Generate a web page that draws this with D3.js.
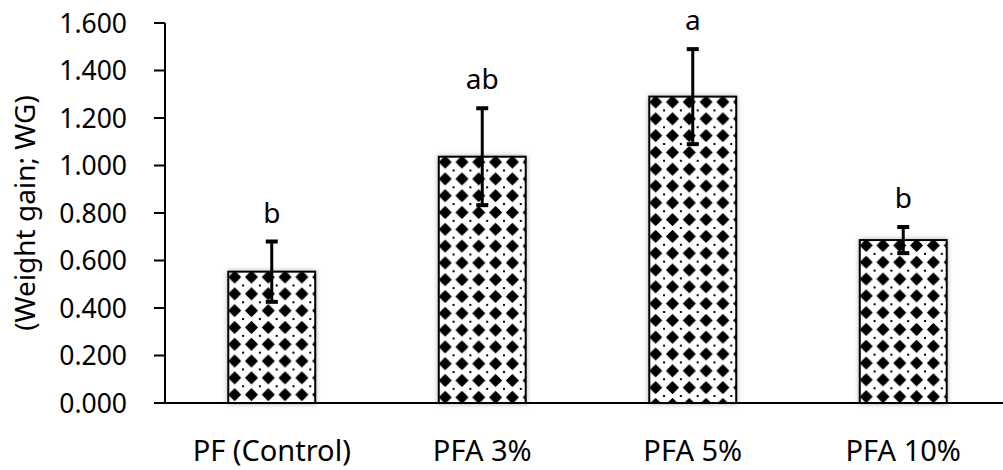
<!DOCTYPE html>
<html>
<head>
<meta charset="utf-8">
<script src="https://cdn.jsdelivr.net/npm/d3@7"></script>
<style>
  body { margin: 0; background: #fff; }
  text { font-family: "Noto Sans", sans-serif; fill: #000; }
</style>
</head>
<body>
<div id="chart"></div>
<script>
// data
const groups = ["PF (Control)", "PFA 3%", "PFA 5%", "PFA 10%"];
const weightGain = [0.553, 1.037, 1.290, 0.686];
const errors = [0.127, 0.204, 0.200, 0.055];
const letters = ["b", "ab", "a", "b"];
const yTicks = [0, 0.2, 0.4, 0.6, 0.8, 1.0, 1.2, 1.4, 1.6];

const width = 1003, height = 470;

const svg = d3.select("#chart")
  .append("svg")
  .attr("width", width)
  .attr("height", height);

const x = d3.scaleBand()
  .domain(groups)
  .range([166.5, 1008.5])
  .paddingInner(0.587)
  .paddingOuter(0.2935);

const y = d3.scaleLinear().domain([0, 1.6]).range([403, 23]);

const defs = svg.append("defs");

// soft grey shadow round the bars
const shadow = defs.append("filter")
  .attr("id", "shadow")
  .attr("x", "-20%").attr("y", "-5%")
  .attr("width", "140%").attr("height", "110%");
shadow.append("feDropShadow")
  .attr("dx", 0).attr("dy", 0)
  .attr("stdDeviation", 2.5)
  .attr("flood-color", "#000")
  .attr("flood-opacity", 0.3);

// diamond pattern, one per bar so it starts at the bar's corner
const cell = 16.8;
groups.forEach((g, i) => {
  const p = defs.append("pattern")
    .attr("id", "diamonds" + i)
    .attr("patternUnits", "userSpaceOnUse")
    .attr("x", x(g) - 2)
    .attr("y", y(weightGain[i]) - 3)
    .attr("width", cell)
    .attr("height", cell);
  p.append("rect").attr("width", cell).attr("height", cell).attr("fill", "#fff");
  const c = cell / 2, r = 5.9, a = 3.1;
  // rounded four-point diamond
  p.append("path")
    .attr("d", `M${c},${c - r} Q${c + a},${c - a} ${c + r},${c} Q${c + a},${c + a} ${c},${c + r}` +
               ` Q${c - a},${c + a} ${c - r},${c} Q${c - a},${c - a} ${c},${c - r} Z`)
    .attr("fill", "#000")
    .attr("stroke", "#000")
    .attr("stroke-width", 1)
    .attr("stroke-linejoin", "round");
  // small dots at the corners of the cell
  [[0, 0], [cell, 0], [0, cell], [cell, cell]].forEach(([px, py]) => {
    p.append("rect")
      .attr("x", px - 1).attr("y", py - 1)
      .attr("width", 2).attr("height", 2)
      .attr("fill", "#000");
  });
});

// bars
svg.selectAll(".bar")
  .data(groups)
  .enter().append("rect")
  .attr("class", "bar")
  .attr("x", d => x(d))
  .attr("y", (d, i) => y(weightGain[i]))
  .attr("width", x.bandwidth())
  .attr("height", (d, i) => y(0) - y(weightGain[i]))
  .attr("fill", (d, i) => "url(#diamonds" + i + ")")
  .attr("stroke", "#000")
  .attr("stroke-width", 2)
  .attr("filter", "url(#shadow)");

// error bars
const err = svg.selectAll(".err")
  .data(groups)
  .enter().append("g")
  .attr("class", "err");

err.append("line")
  .attr("x1", d => x(d) + x.bandwidth() / 2)
  .attr("x2", d => x(d) + x.bandwidth() / 2)
  .attr("y1", (d, i) => y(weightGain[i] - errors[i]))
  .attr("y2", (d, i) => y(weightGain[i] + errors[i]))
  .attr("stroke", "#000")
  .attr("stroke-width", 3);

[1, -1].forEach(sign => {
  err.append("line")
    .attr("x1", d => x(d) + x.bandwidth() / 2 - 6)
    .attr("x2", d => x(d) + x.bandwidth() / 2 + 6)
    .attr("y1", (d, i) => y(weightGain[i] + sign * errors[i]))
    .attr("y2", (d, i) => y(weightGain[i] + sign * errors[i]))
    .attr("stroke", "#000")
    .attr("stroke-width", 4);
});

// significance letters
svg.selectAll(".letter")
  .data(groups)
  .enter().append("text")
  .attr("class", "letter")
  .attr("x", d => x(d) + x.bandwidth() / 2)
  .attr("y", (d, i) => y(weightGain[i] + errors[i]) - 19)
  .attr("text-anchor", "middle")
  .style("font-size", "28px")
  .text((d, i) => letters[i]);

// y axis
svg.append("line")
  .attr("x1", 165).attr("x2", 165)
  .attr("y1", y(1.6)).attr("y2", y(0))
  .attr("stroke", "#000").attr("stroke-width", 2);

svg.selectAll(".ytick")
  .data(yTicks)
  .enter().append("line")
  .attr("class", "ytick")
  .attr("x1", 154).attr("x2", 165)
  .attr("y1", d => y(d)).attr("y2", d => y(d))
  .attr("stroke", "#000").attr("stroke-width", 2);

svg.selectAll(".ylabel")
  .data(yTicks)
  .enter().append("text")
  .attr("class", "ylabel")
  .attr("x", 127)
  .attr("y", d => y(d))
  .attr("dy", "0.36em")
  .attr("text-anchor", "end")
  .style("font-size", "26.5px")
  .text(d => d3.format(".3f")(d));

// x axis
svg.append("line")
  .attr("x1", 154).attr("x2", width)
  .attr("y1", y(0)).attr("y2", y(0))
  .attr("stroke", "#000").attr("stroke-width", 2);

svg.selectAll(".xlabel")
  .data(groups)
  .enter().append("text")
  .attr("class", "xlabel")
  .attr("x", d => x(d) + x.bandwidth() / 2)
  .attr("y", 461)
  .attr("text-anchor", "middle")
  .style("font-size", "29px")
  .text(d => d);

// y axis title
svg.append("text")
  .attr("transform", "translate(35," + (y(0.8)) + ") rotate(-90)")
  .attr("text-anchor", "middle")
  .style("font-size", "28px")
  .text("(Weight gain; WG)");
</script>
</body>
</html>
